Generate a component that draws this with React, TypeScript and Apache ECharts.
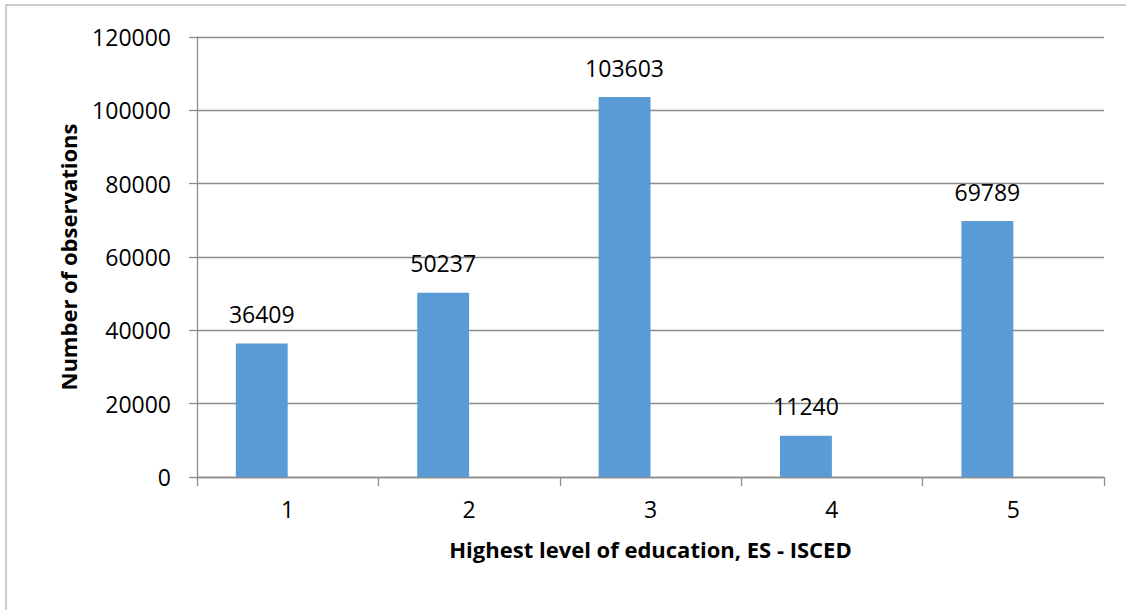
import React, { useEffect, useRef } from "react";
import * as echarts from "echarts";

const categories = ["1", "2", "3", "4", "5"];
const observations = [36409, 50237, 103603, 11240, 69789];
// second, empty series of the clustered layout (keeps the bars left of the category centre)
const emptySeries = [null, null, null, null, null];
const yTicks = { min: 0, max: 120000, interval: 20000 };

const FONT = "'Open Sans', 'Liberation Sans', sans-serif";

export default function App() {
  const ref = useRef<HTMLDivElement>(null);

  useEffect(() => {
    document.body.style.margin = "0";
    if (!ref.current) return;
    const chart = echarts.init(ref.current, null, { renderer: "svg" });
    chart.setOption({
      animation: false,
      backgroundColor: "#ffffff",
      textStyle: { fontFamily: FONT },
      graphic: [
        {
          type: "rect",
          shape: { x: 6, y: 5, width: 1140, height: 640 },
          style: { fill: "none", stroke: "#bdbdbd", lineWidth: 1.5 },
          silent: true,
          z: -1,
        },
      ],
      grid: { left: 197, right: 22, top: 37, bottom: 133, containLabel: false },
      xAxis: {
        type: "category",
        data: categories,
        name: "Highest level of education, ES - ISCED",
        nameLocation: "middle",
        nameGap: 61,
        nameTextStyle: { fontFamily: FONT, fontSize: 22, fontWeight: "bold", color: "#000" },
        axisLine: { lineStyle: { color: "#8c8c8c", width: 1.3 } },
        axisTick: { show: true, length: 9, alignWithLabel: false, lineStyle: { color: "#8c8c8c", width: 1.3 } },
        axisLabel: { fontFamily: FONT, fontSize: 23, color: "#000", margin: 20 },
      },
      yAxis: {
        type: "value",
        min: yTicks.min,
        max: yTicks.max,
        interval: yTicks.interval,
        name: "Number of observations",
        nameLocation: "middle",
        nameGap: 118,
        nameTextStyle: { fontFamily: FONT, fontSize: 22, fontWeight: "bold", color: "#000" },
        axisLine: { show: true, lineStyle: { color: "#8c8c8c", width: 1.3 } },
        axisTick: { show: true, length: 8, lineStyle: { color: "#8c8c8c", width: 1.3 } },
        axisLabel: {
          fontFamily: FONT,
          fontSize: 23,
          color: "#000",
          margin: 26,
          formatter: (v: number) => String(v),
        },
        splitLine: { show: true, lineStyle: { color: "#8c8c8c", width: 1.3 } },
      },
      series: [
        {
          type: "bar",
          data: observations,
          barWidth: "28.6%",
          barGap: "0%",
          itemStyle: { color: "#5b9bd5" },
          label: {
            show: true,
            position: "top",
            distance: 18,
            fontFamily: FONT,
            fontSize: 23,
            color: "#000",
          },
        },
        {
          type: "bar",
          data: emptySeries,
          barWidth: "28.6%",
          barGap: "0%",
          itemStyle: { color: "#ed7d31" },
        },
      ],
    });
    return () => chart.dispose();
  }, []);

  return <div ref={ref} style={{ width: 1126, height: 610 }} />;
}
